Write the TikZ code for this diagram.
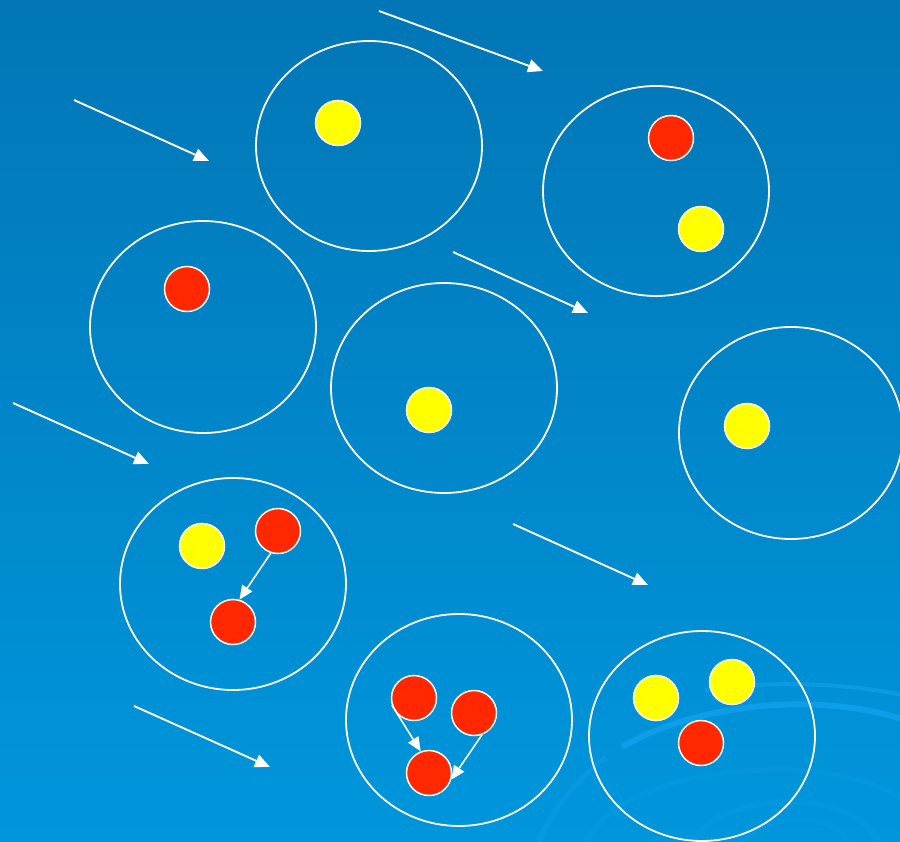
\documentclass[tikz,border=0pt]{standalone}
\usepackage{tikz}
\usetikzlibrary{arrows.meta}

\definecolor{bgtop}{RGB}{2,118,182}
\definecolor{bgbot}{RGB}{0,150,220}
\definecolor{swirl}{RGB}{12,158,232}
\definecolor{ballred}{RGB}{255,40,0}
\definecolor{ballyel}{RGB}{255,255,0}

\tikzset{
  cell/.style={draw=white, line width=1.8pt},
  ball/.style={circle, draw=white, line width=1.5pt, minimum size=45pt, inner sep=0pt},
  redball/.style={ball, fill=ballred},
  yelball/.style={ball, fill=ballyel},
  flow/.style={white, line width=1.9pt, -{Triangle[length=15pt,width=13pt]}},
  react/.style={white, line width=1.6pt, -{Triangle[length=14pt,width=12pt]}}
}

\begin{document}
\begin{tikzpicture}[x=1pt,y=-1pt]
        \useasboundingbox (0,0) rectangle (900,842);
        \shade[top color=bgtop, bottom color=bgbot] (0,0) rectangle (900,842);
        % faint swirls in the corner
        \begin{scope}
            \clip (0,0) rectangle (900,842);
            \draw[swirl, line width=6pt] (622,747) .. controls (700,702) and (820,692) .. (905,720);
            \draw[swirl, line width=4pt, opacity=0.8] (705,690) .. controls (760,681) and (850,682) .. (905,696);
            \draw[swirl, line width=5pt, opacity=0.5] (606,757) .. controls (572,785) and (548,815) .. (538,845);
            \draw[swirl, line width=5pt, opacity=0.3] (585,845) .. controls (610,790) and (700,768) .. (790,770) .. controls (850,772) and (890,790) .. (905,800);
            \draw[swirl, line width=6pt, opacity=0.25] (690,845) .. controls (710,810) and (760,800) .. (800,802) .. controls (840,804) and (870,820) .. (880,845);
            \draw[swirl, line width=5pt, opacity=0.2] (740,845) .. controls (755,825) and (775,820) .. (800,820) .. controls (825,820) and (845,830) .. (850,845);
        \end{scope}
        % cells
        \draw[cell] (369,146) ellipse[x radius=113, y radius=105];
        \draw[cell] (656,191) ellipse[x radius=113, y radius=105];
        \draw[cell] (203,327) ellipse[x radius=113, y radius=106];
        \draw[cell] (444,388) ellipse[x radius=113, y radius=105];
        \draw[cell] (791,433) ellipse[x radius=112, y radius=106];
        \draw[cell] (233,584) ellipse[x radius=113, y radius=106];
        \draw[cell] (459,720) ellipse[x radius=113, y radius=106];
        \draw[cell] (702,736) ellipse[x radius=113, y radius=105];
        % flow arrows
        \foreach \sx/\sy/\ex/\ey in {379/11/543/71, 74/100/209/161, 453/252/588/313,
                13/403/149/464, 513/524/648/585, 134/706/270/767}
            \draw[flow] (\sx,\sy) -- (\ex,\ey);
        % balls
        \node[yelball] (t1) at (338,123) {};
        \node[redball] (u1) at (671,138) {};
        \node[yelball] (u2) at (701,229) {};
        \node[redball] (l1) at (187,289) {};
        \node[yelball] (m1) at (429,410) {};
        \node[yelball] (r1) at (747,426) {};
        \node[yelball] (p1) at (202,546) {};
        \node[redball] (p2) at (278,531) {};
        \node[redball] (p3) at (233,622) {};
        \node[redball] (q1) at (414,698) {};
        \node[redball] (q2) at (474,713) {};
        \node[redball] (q3) at (429,773) {};
        \node[yelball] (s1) at (656,698) {};
        \node[yelball] (s2) at (732,682) {};
        \node[redball] (s3) at (701,743) {};
        % reactions
        \draw[react] (p2.-108) -- (p3.74);
        \draw[react] (q1.198) -- (q3.111);
        \draw[react] (q2.-70) -- (q3.-17);
    \end{tikzpicture}
\end{document}
